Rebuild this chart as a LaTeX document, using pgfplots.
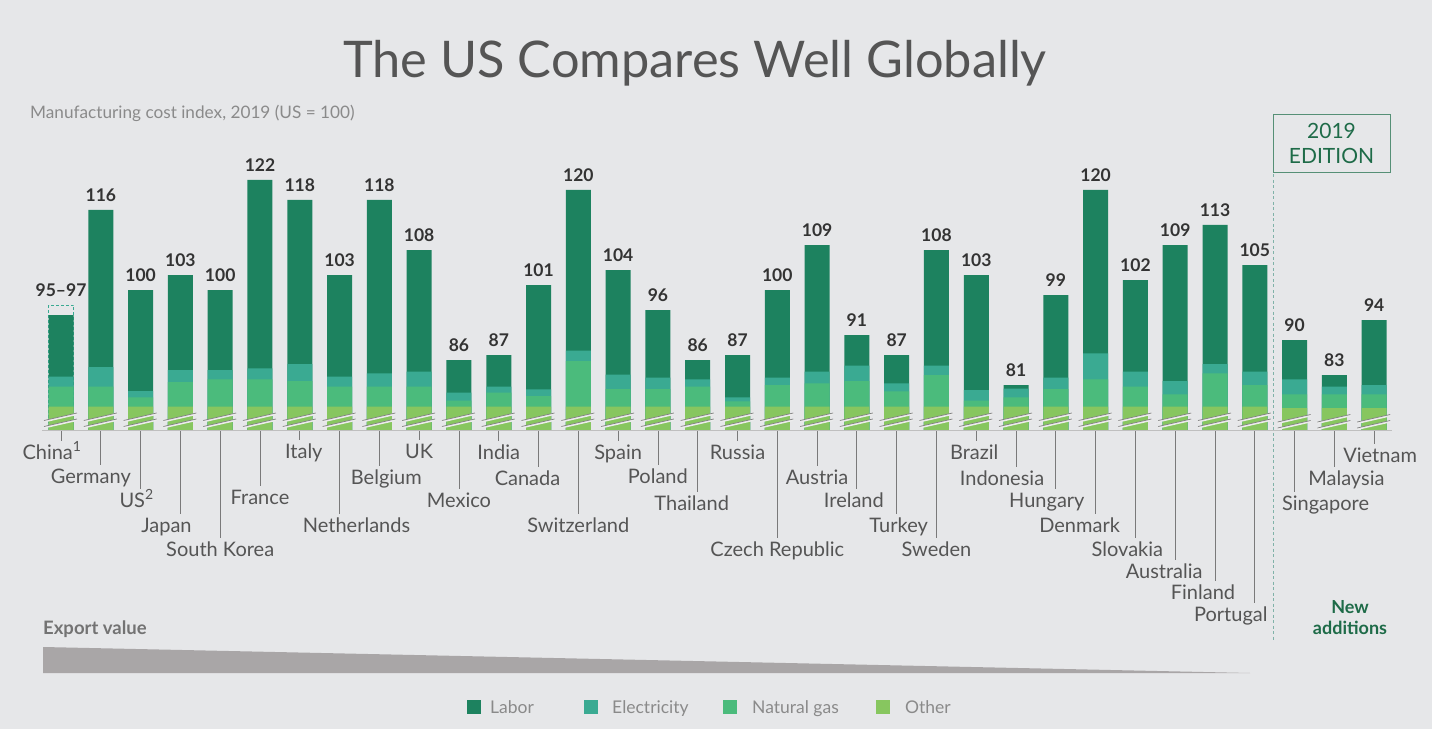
\documentclass[border=0pt]{standalone}
\usepackage{pgfplots}
\pgfplotsset{compat=1.18}
\usepackage{pgfplotstable}
\usepackage{fontspec}
\setmainfont{Lato}
\definecolor{bg}{HTML}{E6E7E9}
\definecolor{labor}{HTML}{1D825F}
\definecolor{elec}{HTML}{3AAA92}
\definecolor{gas}{HTML}{4BBB7C}
\definecolor{other}{HTML}{87C65F}
\definecolor{txt}{HTML}{555555}
\definecolor{val}{HTML}{333333}
\definecolor{lgt}{HTML}{8A8A8A}
\definecolor{dkgreen}{HTML}{1E6B48}
\definecolor{wedge}{HTML}{A9A6A7}

\pgfdeclareplotmark{brk}{%
  \pgfsetlinewidth{2.0pt}\pgfsetstrokecolor{white!85!gray}%
  \pgfpathmoveto{\pgfpoint{-17pt}{-15pt}}\pgfpathlineto{\pgfpoint{16pt}{-7.5pt}}%
  \pgfpathmoveto{\pgfpoint{-17pt}{-21pt}}\pgfpathlineto{\pgfpoint{16pt}{-13.5pt}}%
  \pgfusepath{stroke}%
  \pgfsetlinewidth{0.7pt}\pgfsetstrokecolor{gray}%
  \pgfpathmoveto{\pgfpoint{-17pt}{-14pt}}\pgfpathlineto{\pgfpoint{16pt}{-6.5pt}}%
  \pgfpathmoveto{\pgfpoint{-17pt}{-20pt}}\pgfpathlineto{\pgfpoint{16pt}{-12.5pt}}%
  \pgfusepath{stroke}%
}

% x other gas elec total labtop label
\pgfplotstableread{
x other gas elec total labtop label
0 76.7 80.66 82.66 95 97 95--97
1 76.7 80.66 84.6 116 116 116
2 76.7 78.54 79.8 100 100 100
3 76.7 81.6 84 103 103 103
4 76.7 82.14 84 100 100 100
5 76.7 82.14 84.34 122 122 122
6 76.7 81.8 85.2 118 118 118
7 76.7 80.66 82.66 103 103 103
8 76.7 80.66 83.34 118 118 118
9 76.7 80.66 83.66 108 108 108
10 76.7 77.86 79.46 86 86 86
11 76.7 79.46 80.66 87 87 87
12 76.7 78.8 80.14 101 101 101
13 76.7 85.8 87.86 120 120 120
14 76.7 80.2 83.06 104 104 104
15 76.7 80.2 82.46 96 96 96
16 76.7 80.66 82.14 86 86 86
17 76.7 77.74 78.54 87 87 87
18 76.7 81 82.46 100 100 100
19 76.7 81.34 83.66 109 109 109
20 76.7 81.8 84.86 91 91 91
21 76.7 79.74 81.34 87 87 87
22 76.7 83 84.86 108 108 108
23 76.7 77.86 80 103 103 103
24 76.7 78.54 80.26 81 81 81
25 76.7 80.2 82.46 99 99 99
26 76.7 82.14 87.34 120 120 120
27 76.7 80.66 83.66 102 102 102
28 76.7 79.14 81.8 109 109 109
29 76.7 83.34 85.2 113 113 113
30 76.7 81 83.66 105 105 105
31 76.4 79.14 82.14 90 90 90
32 76.4 79.14 80.66 83 83 83
33 76.4 79.14 81 94 94 94
}\data

\newcommand{\clab}[4]{%
  \draw[leader] (axis cs:#1,72) -- ++(0pt,{-#3pt+11pt});
  \node[clabel] at ([xshift=#2pt,yshift={-#3pt-7pt}]axis cs:#1,72) {#4};
}

\begin{document}
\begin{tikzpicture}[x=1pt,y=1pt,
  leader/.style={draw=black!52, line width=0.8pt},
  clabel/.style={anchor=base, inner sep=0pt, text=txt, font=\fontsize{20}{23}\selectfont}]
\useasboundingbox (0,0) rectangle (1432,729);
\fill[bg] (0,0) rectangle (1432,729);

\begin{axis}[
  at={(29.2pt,299pt)}, anchor=south west,
  scale only axis, width=1376.8pt, height=330pt,
  xmin=-0.8, xmax=33.8, ymin=72, ymax=138,
  axis lines=none, ticks=none,
  clip mode=individual,
  ybar, bar width=25pt,
]
\addplot[ybar, bar shift=0pt, fill=bg, draw=elec, densely dashed, line width=0.8pt] coordinates {(0,97)};
\addplot[ybar, bar shift=0pt, fill=labor, draw=none] table[x=x, y=total] {\data};
\addplot[ybar, bar shift=0pt, fill=elec, draw=none] table[x=x, y=elec] {\data};
\addplot[ybar, bar shift=0pt, fill=gas, draw=none] table[x=x, y=gas] {\data};
\addplot[ybar, bar shift=0pt, fill=other, draw=none] table[x=x, y=other] {\data};
\addplot[only marks, mark=brk, draw=none] table[x=x, y=other] {\data};
\addplot[ybar, bar shift=0pt, draw=none, fill=none,
  nodes near coords, point meta=explicit symbolic,
  every node near coord/.append style={anchor=south, inner sep=0pt, yshift=8pt,
    text=val, font=\bfseries\fontsize{17.5}{20}\selectfont}]
  table[x=x, y=labtop, meta=label] {\data};

\clab{0}{-9}{22}{China\textsuperscript{1}}
\clab{1}{-10}{46}{Germany}
\clab{2}{-4}{70}{US\textsuperscript{2}}
\clab{3}{-14}{95}{Japan}
\clab{4}{0}{119}{South Korea}
\clab{5}{0}{67}{France}
\clab{6}{4}{21}{Italy}
\clab{7}{17}{95}{Netherlands}
\clab{8}{7}{47}{Belgium}
\clab{9}{0}{21}{UK}
\clab{10}{0}{70}{Mexico}
\clab{11}{0}{22}{India}
\clab{12}{-11}{48}{Canada}
\clab{13}{0}{95}{Switzerland}
\clab{14}{0}{22}{Spain}
\clab{15}{0}{46}{Poland}
\clab{16}{-6}{73}{Thailand}
\clab{17}{0}{22}{Russia}
\clab{18}{0}{119}{Czech Republic}
\clab{19}{0}{47}{Austria}
\clab{20}{-3}{70}{Ireland}
\clab{21}{2}{95}{Turkey}
\clab{22}{0}{119}{Sweden}
\clab{23}{-2}{22}{Brazil}
\clab{24}{-14}{48}{Indonesia}
\clab{25}{-9}{70}{Hungary}
\clab{26}{-16}{95}{Denmark}
\clab{27}{-8}{119}{Slovakia}
\clab{28}{-11}{141}{Australia}
\clab{29}{-12}{162}{Finland}
\clab{30}{-24}{184}{Portugal}
\clab{31}{31}{73}{Singapore}
\clab{32}{12}{48}{Malaysia}
\clab{33}{6}{25}{Vietnam}
\end{axis}

% baseline
\draw[black!25, line width=0.9pt] (42,299) -- (1392,299);

% title and subtitle
\node[anchor=base, inner sep=0pt, text=txt, font=\fontsize{50.5}{60}\selectfont] at (695,651) {The US Compares Well Globally};
\node[anchor=base west, inner sep=0pt, text=lgt, font=\fontsize{17.2}{20}\selectfont] at (30,610) {Manufacturing cost index, 2019 (US = 100)};

% 2019 edition
\draw[black!25!elec!60, line width=0.7pt, dash pattern=on 3pt off 2.5pt] (1273,615) -- (1273,89);
\draw[dkgreen!75, line width=0.8pt] (1273,557) rectangle (1390,615);
\node[align=center, text=dkgreen, font=\fontsize{21}{25}\selectfont, inner sep=0pt] at (1331.5,586) {2019\\EDITION};
\node[align=center, text=dkgreen, font=\bfseries\fontsize{18}{21}\selectfont, inner sep=0pt] at (1350,111) {New\\additions};

% export value
\node[anchor=base west, inner sep=0pt, text=black!55, font=\bfseries\fontsize{18.5}{20}\selectfont] at (43,95) {Export value};
\fill[wedge] (43,82) -- (1250,56) -- (43,56) -- cycle;

% legend
\fill[labor] (467,15) rectangle (481,29);
\node[anchor=base west, inner sep=0pt, text=lgt, font=\fontsize{17.5}{20}\selectfont] at (490,16) {Labor};
\fill[elec] (584,15) rectangle (598,29);
\node[anchor=base west, inner sep=0pt, text=lgt, font=\fontsize{17.5}{20}\selectfont] at (612,16) {Electricity};
\fill[gas] (723,15) rectangle (737,29);
\node[anchor=base west, inner sep=0pt, text=lgt, font=\fontsize{17.5}{20}\selectfont] at (752,16) {Natural gas};
\fill[other] (876,15) rectangle (890,29);
\node[anchor=base west, inner sep=0pt, text=lgt, font=\fontsize{17.5}{20}\selectfont] at (905,16) {Other};
\end{tikzpicture}
\end{document}
